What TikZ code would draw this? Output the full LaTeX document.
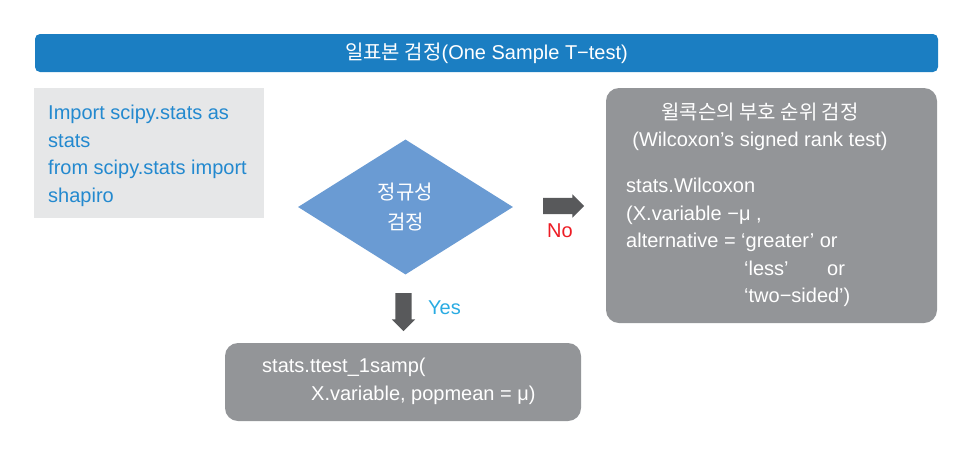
\documentclass[tikz,border=0pt]{standalone}
\usepackage{fontspec}
\setmainfont{Liberation Sans}
\newfontfamily\kr{Noto Sans CJK KR}
\usetikzlibrary{positioning, shapes.geometric, shapes.arrows}
\definecolor{titleblue}{HTML}{1B7EC2}
\definecolor{codeblue}{HTML}{2389CF}
\definecolor{bglight}{HTML}{E6E7E8}
\definecolor{bggray}{HTML}{939598}
\definecolor{diablue}{HTML}{6A9BD3}
\definecolor{arrgray}{HTML}{58595B}
\definecolor{nored}{HTML}{ED1C24}
\definecolor{yescyan}{HTML}{29ABE2}
\tikzset{
  txt/.style      = {font=\fontsize{20}{27.5}\selectfont, inner sep=0pt},
  titlebar/.style = {fill=titleblue, rounded corners=5pt, text=white,
                     minimum width=903pt, minimum height=38pt,
                     font=\fontsize{20}{24}\selectfont},
  blklight/.style = {fill=bglight, minimum width=230pt, minimum height=130pt},
  blkgray/.style  = {fill=bggray, rounded corners=13pt},
  decide/.style   = {diamond, fill=diablue, inner sep=0pt, text=white,
                     minimum width=215pt, minimum height=135pt, align=center,
                     font=\fontsize{20}{30}\selectfont\kr},
  barrow/.style   = {single arrow, fill=arrgray, inner sep=8pt,
                     minimum width=23pt, single arrow head extend=3.5pt,
                     single arrow head indent=0pt},
}
\begin{document}
\begin{tikzpicture}[x=1pt, y=-1pt]
    \useasboundingbox (0,0) rectangle (972,464);
    % title
    \node[titlebar] (title) at (486.5,53) {{\kr 일표본 검정}(One Sample T−test)};
    % import block
    \node[blklight] (imp) at (149,153) {};
    \node[txt, text=codeblue, align=left, anchor=north west] (imptxt) at (48,105)
      {Import scipy.stats as\\stats\\from scipy.stats import\\shapiro};
    % normality check
    \node[decide] (norm) at (405.5,207) {정규성\\검정};
    \node[barrow, minimum height=41pt] (noarr) at (559.5,206) {};
    \node[txt, text=nored] (nolbl) at (560,231) {No};
    \node[barrow, shape border rotate=270, minimum height=38pt] (yesarr) at (403.5,308) {};
    \node[txt, text=yescyan] (yeslbl) at (444.5,308) {Yes};
    % wilcoxon
    \node[blkgray, minimum width=331pt, minimum height=235pt] (wil) at (771.5,205.5) {};
    \node[txt, text=white, align=center] (wiltitle) at (760,127)
      {{\kr 윌콕슨의 부호 순위 검정}\\(Wilcoxon’s signed rank test)};
    \node[txt, text=white, align=left, anchor=north west] (wilcode) at (626,178)
      {stats.Wilcoxon\\(X.variable −μ ,\\alternative = ‘greater’ or\\
       \hspace*{118pt}\makebox[83pt][l]{‘less’}or\\
       \hspace*{118pt}‘two−sided’)};
    % t-test
    \node[blkgray, minimum width=356pt, minimum height=78pt] (ttest) at (403,382) {};
    \node[txt, text=white, align=left, anchor=north west] (ttxt) at (262,358)
      {stats.ttest\_1samp(\\\hspace*{49pt}X.variable, popmean = μ)};
\end{tikzpicture}
\end{document}
